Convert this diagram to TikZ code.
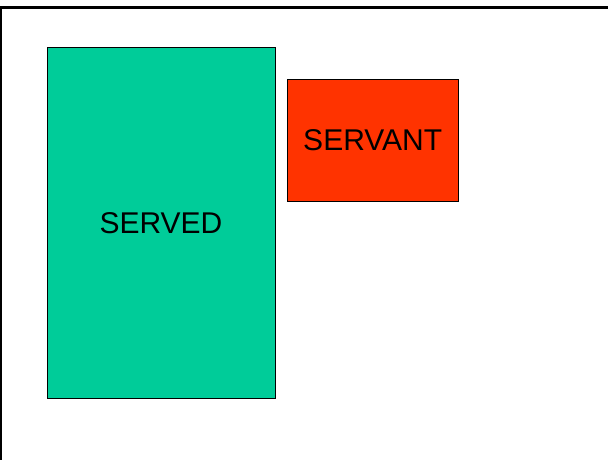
\documentclass[tikz,border=0pt]{standalone}
\usepackage{fontspec}
\setmainfont{Liberation Sans}
\definecolor{servedgreen}{HTML}{00CC99}
\definecolor{servantred}{HTML}{FF3300}
\tikzset{
  panel/.style={draw=black, line width=0.8pt, inner sep=0pt, outer sep=0pt, font=\fontsize{30}{36}\selectfont}
}
\begin{document}
\begin{tikzpicture}[x=1pt, y=-1pt]
\useasboundingbox (0,0) rectangle (608,459);
\clip (0,0) rectangle (608,459);
\draw[line width=2.5pt] (1.2,470) -- (1.2,7.4) -- (620,7.4);
\node[panel, fill=servedgreen, minimum width=228pt, minimum height=351pt] (served) at (161,223) {SERVED};
\node[panel, fill=servantred, minimum width=170.5pt, minimum height=121.5pt] (servant) at (372.7,140.3) {SERVANT};
\end{tikzpicture}
\end{document}
